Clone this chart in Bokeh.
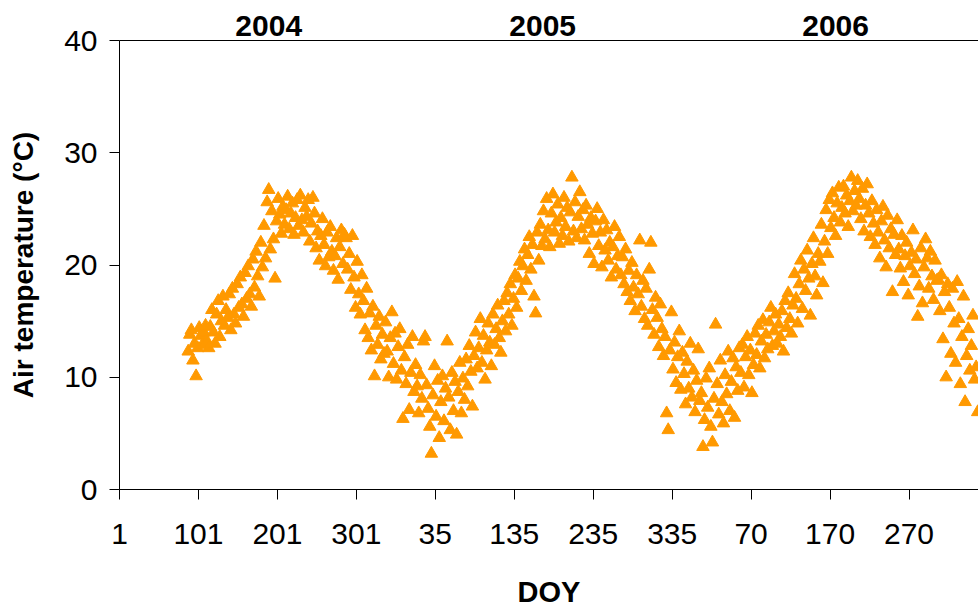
from bokeh.plotting import figure
from bokeh.models import Range1d, FixedTicker, LinearAxis, ColumnDataSource
from bokeh.embed import file_html
from bokeh.resources import INLINE

# ---- data -------------------------------------------------------------
# continuous day counter starting at DOY 1 of 2004 (2004 is a leap year)
doy_start = 88
doy_step = 2
air_temp_c = [
    12.3, 13.8, 14.2, 11.5, 13.0, 10.1, 12.6, 14.4, 13.7, 12.9, 14.0, 14.6, 13.2, 12.6, 14.5, 16.0, 14.0, 13.0, 15.6, 16.8, 13.6, 15.0, 17.2, 14.6, 16.0,
    15.3, 17.4, 14.2, 17.9, 15.6, 14.8, 18.3, 16.2, 18.9, 16.5, 15.4, 19.3, 17.0, 19.9, 17.4, 16.3, 20.5, 18.0, 21.2, 19.0, 17.2, 22.0, 19.8, 23.5, 20.6,
    25.6, 26.7, 21.4, 24.8, 22.3, 18.8, 23.9, 25.9, 24.5, 22.8, 25.2, 23.6, 24.9, 26.1, 23.2, 24.6, 25.5, 22.7, 24.2, 25.8, 23.5, 26.2, 24.0, 22.9, 25.1,
    24.3, 25.8, 22.1, 23.7, 26.0, 24.6, 21.5, 23.0, 20.4, 22.6, 24.1, 21.8, 19.9, 22.9, 20.7, 23.4, 21.2, 19.5, 20.8, 22.4, 18.7, 21.6, 23.1, 20.1, 22.7,
    22.4, 19.6, 21.0, 17.8, 22.6, 18.9, 16.2, 20.3, 17.4, 15.6, 19.1, 16.8, 14.2, 17.9, 13.5, 15.7, 12.4, 16.3, 10.1, 14.6, 12.9, 15.4, 11.6, 13.8, 12.1,
    14.9, 12.3, 10.0, 13.5, 15.8, 11.2, 13.9, 9.8, 12.7, 14.3, 10.6, 6.3, 11.8, 9.4, 12.9, 7.1, 10.4, 13.6, 8.7, 11.1, 9.2, 6.8, 10.2, 8.1, 13.2,
    13.6, 9.3, 7.2, 5.6, 3.2, 8.4, 11.0, 6.5, 9.7, 4.6, 7.8, 10.1, 6.1, 9.0, 13.2, 8.2, 5.3, 10.4, 7.0, 9.6, 4.9, 8.7, 11.3, 6.8, 9.9,
    8.0, 11.6, 9.2, 12.8, 10.5, 7.4, 11.9, 14.0, 10.8, 12.6, 15.2, 11.3, 13.7, 9.8, 12.4, 14.8, 13.1, 11.0, 15.6, 12.9, 14.3, 16.4, 13.5, 12.2, 15.0,
    16.8, 14.1, 17.5, 15.6, 18.3, 14.6, 17.0, 19.1, 16.2, 18.8, 20.3, 17.7, 19.9, 21.4, 18.6, 20.9, 22.5, 19.6, 21.8, 17.2, 15.7, 22.9, 20.4, 23.6, 21.7,
    24.8, 22.3, 25.9, 23.1, 21.6, 24.6, 26.3, 22.9, 23.8, 25.4, 21.9, 24.2, 22.6, 26.0, 23.4, 25.1, 22.1, 24.7, 27.8, 23.0, 25.6, 22.4, 24.3, 26.5, 23.2,
    24.9, 22.2, 25.3, 23.6, 21.0, 24.2, 22.8, 20.1, 23.9, 25.0, 21.7, 22.9, 19.8, 24.0, 21.3, 23.1, 20.4, 22.0, 18.9, 21.6, 23.4, 19.6, 20.8, 22.5, 19.1,
    20.7, 18.3, 21.4, 17.6, 19.5, 16.8, 20.2, 18.0, 15.9, 19.1, 17.4, 22.2, 16.3, 18.6, 15.2, 17.9, 14.6, 19.6, 22.0, 16.0, 13.8, 17.1, 15.3, 12.7, 16.5,
    14.3, 11.9, 13.6, 6.8, 5.3, 12.4, 15.8, 10.7, 13.1, 9.5, 11.8, 14.1, 8.9, 12.2, 10.3, 7.6, 11.4, 9.0, 13.0, 8.2, 10.6, 6.9, 9.7, 12.5, 7.9,
    8.6, 3.8, 6.2, 9.9, 7.3, 10.8, 5.6, 4.2, 8.1, 14.7, 9.4, 6.7, 11.5, 7.8, 5.9, 10.2, 8.5, 12.3, 7.0, 9.6, 11.7, 6.4, 10.9, 8.8, 12.6,
    10.4, 12.9, 9.1, 11.8, 13.6, 10.2, 12.4, 8.6, 11.1, 13.9, 12.0, 14.6, 10.8, 13.2, 15.1, 11.7, 13.8, 12.5, 14.9, 16.2, 12.8, 14.1, 15.6, 13.0, 14.7,
    13.6, 15.9, 12.3, 16.8, 14.4, 17.5, 15.2, 13.9, 16.4, 19.2, 17.0, 14.8, 18.3, 20.4, 16.1, 19.6, 17.7, 21.3, 18.8, 15.5, 20.1, 22.4, 19.0, 17.3, 21.0,
    20.3, 23.6, 18.4, 22.1, 24.9, 21.0, 25.8, 23.3, 26.4, 24.2, 22.6, 25.5, 26.9, 23.8, 25.1, 27.0, 24.6, 26.2, 23.4, 25.7, 27.8, 24.8, 26.6, 25.3, 27.5,
    25.9, 24.1, 26.8, 23.0, 25.3, 27.2, 24.6, 22.5, 25.7, 23.7, 21.8, 24.9, 22.9, 20.6, 23.9, 25.2, 22.2, 19.8, 24.4, 21.5, 23.2, 17.6, 22.7, 20.9, 24.0,
    21.4, 19.7, 22.6, 18.5, 20.8, 22.0, 17.3, 19.9, 21.1, 23.1, 19.2, 20.5, 15.4, 18.1, 21.5, 16.6, 19.8, 22.3, 20.6, 17.9, 21.2, 19.0, 16.9, 20.4, 18.6,
    18.7, 15.9, 19.1, 13.4, 17.6, 10.0, 18.3, 16.2, 12.1, 17.9, 14.8, 11.3, 18.5, 15.2, 9.4, 13.6, 17.2, 7.8, 11.9, 14.3, 10.6, 12.8, 15.5, 9.8, 10.9, 6.9,
]
day_index = [doy_start + doy_step * i for i in range(len(air_temp_c))]

x_tick_positions = [1, 101, 201, 301, 401, 501, 601, 701, 801, 901, 1001]
x_tick_labels = ["1", "101", "201", "301", "35", "135", "235", "335", "70", "170", "270"]
y_tick_values = [0, 10, 20, 30, 40]

year_names = ["2004", "2005", "2006"]
year_centers = [190, 537, 908]

FONT = "Liberation Sans"
ORANGE = "#FF9900"

# ---- figure -----------------------------------------------------------
p = figure(
    width=978, height=610,
    x_range=Range1d(1, 1089), y_range=Range1d(0, 40),
    output_backend="svg", toolbar_location=None,
    min_border_left=119, min_border_right=0,
    min_border_top=40, min_border_bottom=120,
)
p.outline_line_color = None
p.xgrid.visible = False
p.ygrid.visible = False
p.background_fill_color = "white"
p.border_fill_color = "white"

src = ColumnDataSource(data=dict(day=day_index, temp=air_temp_c))
p.scatter("day", "temp", source=src, marker="triangle", size=12.5,
          fill_color=ORANGE, line_color=ORANGE, line_width=1)

# x axis (bottom)
xa = p.xaxis[0]
xa.ticker = FixedTicker(ticks=x_tick_positions)
xa.major_label_overrides = {t: l for t, l in zip(x_tick_positions, x_tick_labels)}
xa.minor_tick_line_color = None
xa.major_tick_in = 0
xa.major_tick_out = 10
xa.major_label_standoff = 24
xa.major_label_text_font = FONT
xa.major_label_text_font_size = "30px"
xa.major_label_text_color = "black"
xa.axis_label = "DOY"
xa.axis_label_text_font = FONT
xa.axis_label_text_font_size = "29px"
xa.axis_label_text_font_style = "bold"
xa.axis_label_text_color = "black"
xa.axis_label_standoff = 29
xa.axis_line_color = "black"
xa.major_tick_line_color = "black"

# y axis (left)
ya = p.yaxis[0]
ya.ticker = FixedTicker(ticks=y_tick_values)
ya.minor_tick_line_color = None
ya.major_tick_in = 0
ya.major_tick_out = 10
ya.major_label_standoff = 12
ya.major_label_text_font = FONT
ya.major_label_text_font_size = "30px"
ya.major_label_text_color = "black"
ya.axis_label = "Air temperature (°C)"
ya.axis_label_text_font = FONT
ya.axis_label_text_font_size = "28px"
ya.axis_label_text_font_style = "bold"
ya.axis_label_text_color = "black"
ya.axis_label_standoff = 22
ya.axis_line_color = "black"
ya.major_tick_line_color = "black"

# top axis: frame border plus year labels
top = LinearAxis(
    ticker=FixedTicker(ticks=year_centers),
    major_label_overrides={c: n for c, n in zip(year_centers, year_names)},
)
top.minor_tick_line_color = None
top.major_tick_line_color = None
top.major_tick_in = 0
top.major_tick_out = 0
top.major_label_standoff = 5
top.major_label_text_font = FONT
top.major_label_text_font_size = "30px"
top.major_label_text_font_style = "bold"
top.major_label_text_color = "black"
top.axis_line_color = "black"
p.add_layout(top, "above")

open("out.html", "w").write(file_html(p, INLINE))
